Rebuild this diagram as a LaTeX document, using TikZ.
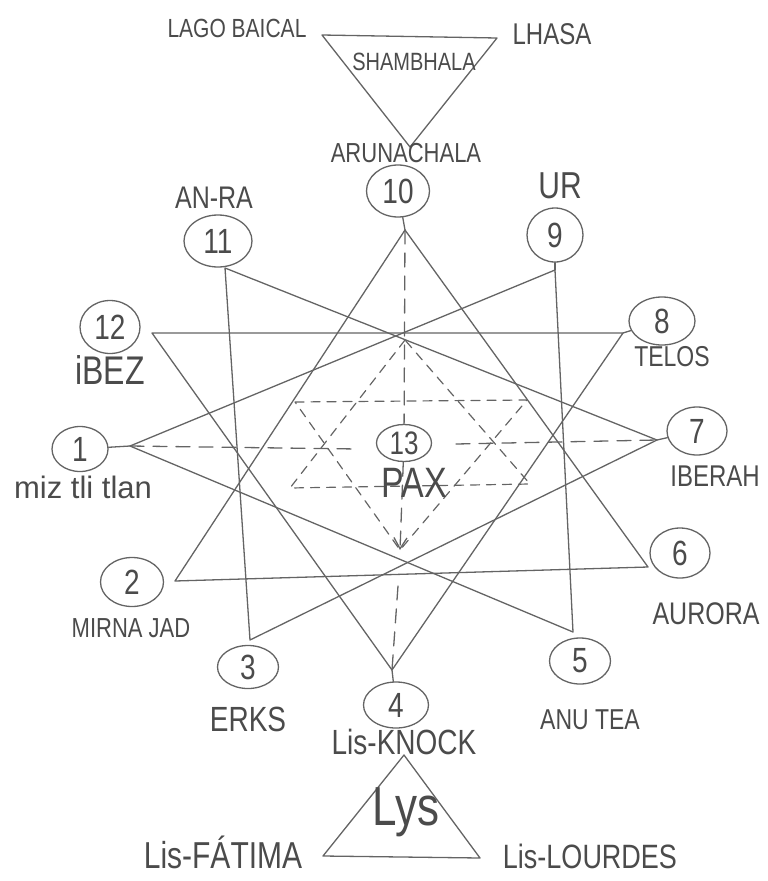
\documentclass[tikz,border=0pt]{standalone}
\usepackage{graphicx}
\usepackage{fontspec}
\setmainfont{Liberation Sans}
\usetikzlibrary{shapes.geometric,arrows.meta}
\definecolor{pencil}{RGB}{100,100,100}
\definecolor{ink}{RGB}{75,75,75}
\newcommand{\hw}[2]{{\fontsize{#1}{#1}\selectfont\scalebox{1}[1.25]{#2}}}
\begin{document}
\begin{tikzpicture}[x=1pt,y=-1pt,line cap=round,line join=round,
  edge/.style={draw=pencil,line width=1.3pt},
  dashedge/.style={draw=pencil,line width=1.3pt,dash pattern=on 14pt off 9pt},
  stardash/.style={draw=pencil,line width=1.2pt,dash pattern=on 9pt off 7pt},
  ring/.style={ellipse,draw=pencil,line width=1.3pt,inner sep=0pt,text=ink},
  lab/.style={text=ink,inner sep=0pt}]
\useasboundingbox (0,0) rectangle (768,881);

% ---- circles ----
\node[ring,minimum width=63pt,minimum height=52pt] (n10) at (398,191) {\hw{28}{10}};
\node[ring,minimum width=68pt,minimum height=52pt] (n11) at (218,241) {\hw{28}{11}};
\node[ring,minimum width=56pt,minimum height=54pt] (n9) at (555,235) {\hw{28}{9}};
\node[ring,minimum width=60pt,minimum height=53pt] (n12) at (110,327) {\hw{28}{12}};
\node[ring,minimum width=66pt,minimum height=48pt] (n8) at (662,321) {\hw{28}{8}};
\node[ring,minimum width=56pt,minimum height=45pt] (n1) at (80,449) {\hw{28}{1}};
\node[ring,minimum width=60pt,minimum height=48pt] (n7) at (697,431) {\hw{28}{7}};
\node[ring,minimum width=63pt,minimum height=49pt] (n2) at (132,582) {\hw{28}{2}};
\node[ring,minimum width=60pt,minimum height=50pt] (n6) at (680,553) {\hw{28}{6}};
\node[ring,minimum width=61pt,minimum height=43pt] (n3) at (248,667) {\hw{28}{3}};
\node[ring,minimum width=61pt,minimum height=46pt] (n5) at (580,661) {\hw{28}{5}};
\node[ring,minimum width=65pt,minimum height=46pt] (n4) at (396,705) {\hw{28}{4}};
\node[ring,minimum width=55pt,minimum height=37pt] (n13) at (404,443) {\hw{26}{13}};

% ---- star vertices ----
\coordinate (v10) at (405,230);
\coordinate (v11) at (225,268);
\coordinate (v9) at (555,270);
\coordinate (v12) at (152,333);
\coordinate (v8) at (623,333);
\coordinate (v1) at (130,446);
\coordinate (v7) at (657,440);
\coordinate (v2) at (175,581);
\coordinate (v6) at (648,567);
\coordinate (v3) at (250,640);
\coordinate (v5) at (573,632);
\coordinate (v4) at (392,670);

% stubs from circles to vertices
\draw[edge] (n10) -- (v10);
\draw[edge] (n1) -- (v1);
\draw[edge] (n7) -- (v7);
\draw[edge] (n4) -- (v4);
\draw[edge] (n9) -- (v9);
\draw[edge] (n8) -- (v8);

% ---- four triangles ----
\draw[edge] (v10) -- (v2) -- (v6) -- cycle;
\draw[edge] (v11) -- (v3) -- (v7) -- cycle;
\draw[edge] (v12) -- (v8) -- (v4) -- cycle;
\draw[edge] (v1) -- (v9) -- (v5) -- cycle;

% ---- dashed axes ----
\coordinate (ar) at (400,550);
\coordinate (ar2) at (398,586);
\coordinate (h1) at (358,449);
\coordinate (h2) at (456,444);
\draw[dashedge] (v10) -- (n13);
\draw[dashedge,-{Straight Barb[length=11pt,width=13pt,line width=1.3pt]}] (n13) -- (ar);
\draw[dashedge] (ar2) -- (v4);
\draw[dashedge] (v1) -- (h1);
\draw[dashedge] (h2) -- (v7);

% ---- central dashed hexagram ----
\coordinate (s1) at (405,340);
\coordinate (s2) at (290,488);
\coordinate (s3) at (530,484);
\coordinate (d1) at (295,402);
\coordinate (d2) at (527,400);
\draw[stardash] (s1) -- (s2) -- (s3) -- cycle;
\draw[stardash] (d1) -- (d2) -- (ar) -- cycle;

% ---- top triangle ----
\coordinate (t1) at (322,35);
\coordinate (t2) at (497,38);
\coordinate (t3) at (410,147);
\draw[edge] (t1) -- (t2) -- (t3) -- cycle;

% ---- bottom triangle ----
\coordinate (b1) at (404,755);
\coordinate (b2) at (323,856);
\coordinate (b3) at (480,858);
\draw[edge] (b1) -- (b2) -- (b3) -- cycle;

% ---- labels ----
\node[lab] (lago) at (237,28) {\hw{21}{LAGO BAICAL}};
\node[lab] (lhasa) at (552,34) {\hw{24}{LHASA}};
\node[lab] (shamb) at (414,62) {\hw{20}{SHAMBHALA}};
\node[lab] (aruna) at (406,153) {\hw{22}{ARUNACHALA}};
\node[lab] (anra) at (214,198) {\hw{25}{AN-RA}};
\node[lab] (ur) at (560,186) {\hw{30}{UR}};
\node[lab] (ibez) at (110,370) {\hw{32}{iBEZ}};
\node[lab] (telos) at (672,357) {\hw{23}{TELOS}};
\node[lab] (iberah) at (715,476) {\hw{24}{IBERAH}};
\node[lab] (miz) at (83,487) {{\fontsize{31}{31}\selectfont miz tli tlan}};
\node[lab] (mirna) at (131,628) {\hw{22}{MIRNA JAD}};
\node[lab] (aurora) at (706,614) {\hw{25}{AURORA}};
\node[lab] (erks) at (248,719) {\hw{28}{ERKS}};
\node[lab] (anutea) at (590,720) {\hw{23}{ANU TEA}};
\node[lab] (knock) at (404,742) {\hw{28}{Lis-KNOCK}};
\node[lab] (pax) at (414,483) {\hw{34}{PAX}};
\node[lab] (lys) at (406,812) {\hw{44}{Lys}};
\node[lab] (fatima) at (223,852) {\hw{30}{Lis-FÁTIMA}};
\node[lab] (lourdes) at (590,856) {\hw{27}{Lis-LOURDES}};
\end{tikzpicture}
\end{document}
